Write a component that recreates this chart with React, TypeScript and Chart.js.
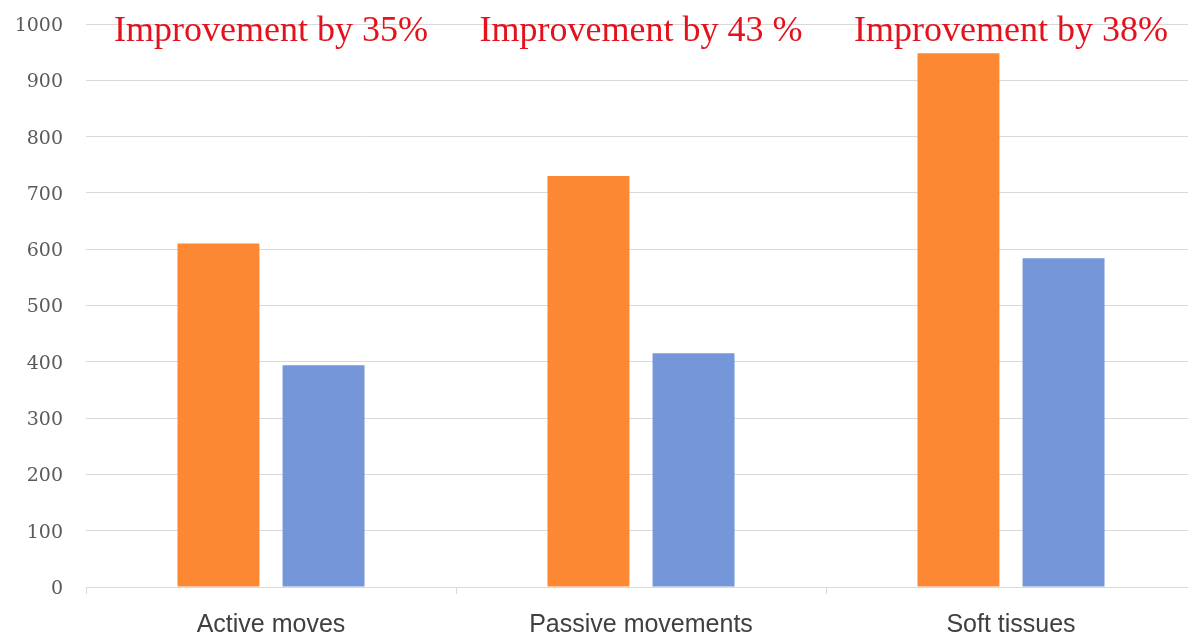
import React, { useEffect, useRef } from "react";
import { Chart, registerables } from "chart.js";

Chart.register(...registerables);

const categories = ["Active moves", "Passive movements", "Soft tissues"];
const beforeValues = [610, 730, 948];
const afterValues = [394, 415, 584];
const improvementLabels = ["Improvement by 35%", "Improvement by 43 %", "Improvement by 38%"];
const yTicks = [0, 100, 200, 300, 400, 500, 600, 700, 800, 900, 1000];

const annotationPlugin = {
  id: "improvementText",
  afterDatasetsDraw(chart: any) {
    const { ctx, scales, chartArea } = chart;
    ctx.save();
    ctx.font = '36px "Liberation Serif", serif';
    ctx.fillStyle = "#E3121C";
    ctx.textAlign = "center";
    ctx.textBaseline = "alphabetic";
    improvementLabels.forEach((t, i) => {
      const x = scales.x.getPixelForValue(i);
      ctx.fillText(t, x, chartArea.top + 17);
    });
    ctx.restore();
  },
};

export default function App() {
  const ref = useRef<HTMLCanvasElement>(null);
  useEffect(() => {
    if (!ref.current) return;
    const chart = new Chart(ref.current, {
      type: "bar",
      data: {
        labels: categories,
        datasets: [
          {
            label: "Before",
            data: beforeValues,
            backgroundColor: "#FD8833",
            categoryPercentage: 0.568,
            barPercentage: 0.78,
          },
          {
            label: "After",
            data: afterValues,
            backgroundColor: "#7597D9",
            categoryPercentage: 0.568,
            barPercentage: 0.78,
          },
        ],
      },
      options: {
        responsive: false,
        animation: false,
        layout: { padding: { top: 24, left: 0, right: 0, bottom: 0 } },
        plugins: { legend: { display: false }, tooltip: { enabled: false } },
        scales: {
          x: {
            offset: true,
            grid: {
              offset: true,
              drawOnChartArea: false,
              drawTicks: true,
              tickLength: 7,
              color: "#D9D9D9",
            },
            border: { display: true, color: "#D9D9D9", width: 1 },
            ticks: {
              color: "#404040",
              font: { family: '"Liberation Sans", Arial, sans-serif', size: 25 },
              padding: 16,
              maxRotation: 0,
            },
            afterFit(axis: any) {
              axis.height = 52;
            },
          },
          y: {
            min: 0,
            max: 1000,
            afterBuildTicks(axis: any) {
              axis.ticks = yTicks.map((v) => ({ value: v }));
            },
            grid: { color: "#D9D9D9", drawTicks: true, tickLength: 23, tickColor: "rgba(0,0,0,0)" },
            border: { display: false },
            ticks: {
              color: "#5A5A5A",
              font: { family: '"DejaVu Serif", serif', size: 19 },
              padding: 0,
              labelOffset: 2,
              callback: (v: any) => String(v),
            },
            afterFit(axis: any) {
              axis.width = 86;
            },
          },
        },
      },
      plugins: [annotationPlugin],
    });
    return () => chart.destroy();
  }, []);
  return (
    <div style={{ position: "fixed", left: 0, top: 0, width: 1188, height: 639, overflow: "hidden", background: "#fff" }}>
      <canvas ref={ref} width={1196} height={639} style={{ display: "block" }} />
    </div>
  );
}
